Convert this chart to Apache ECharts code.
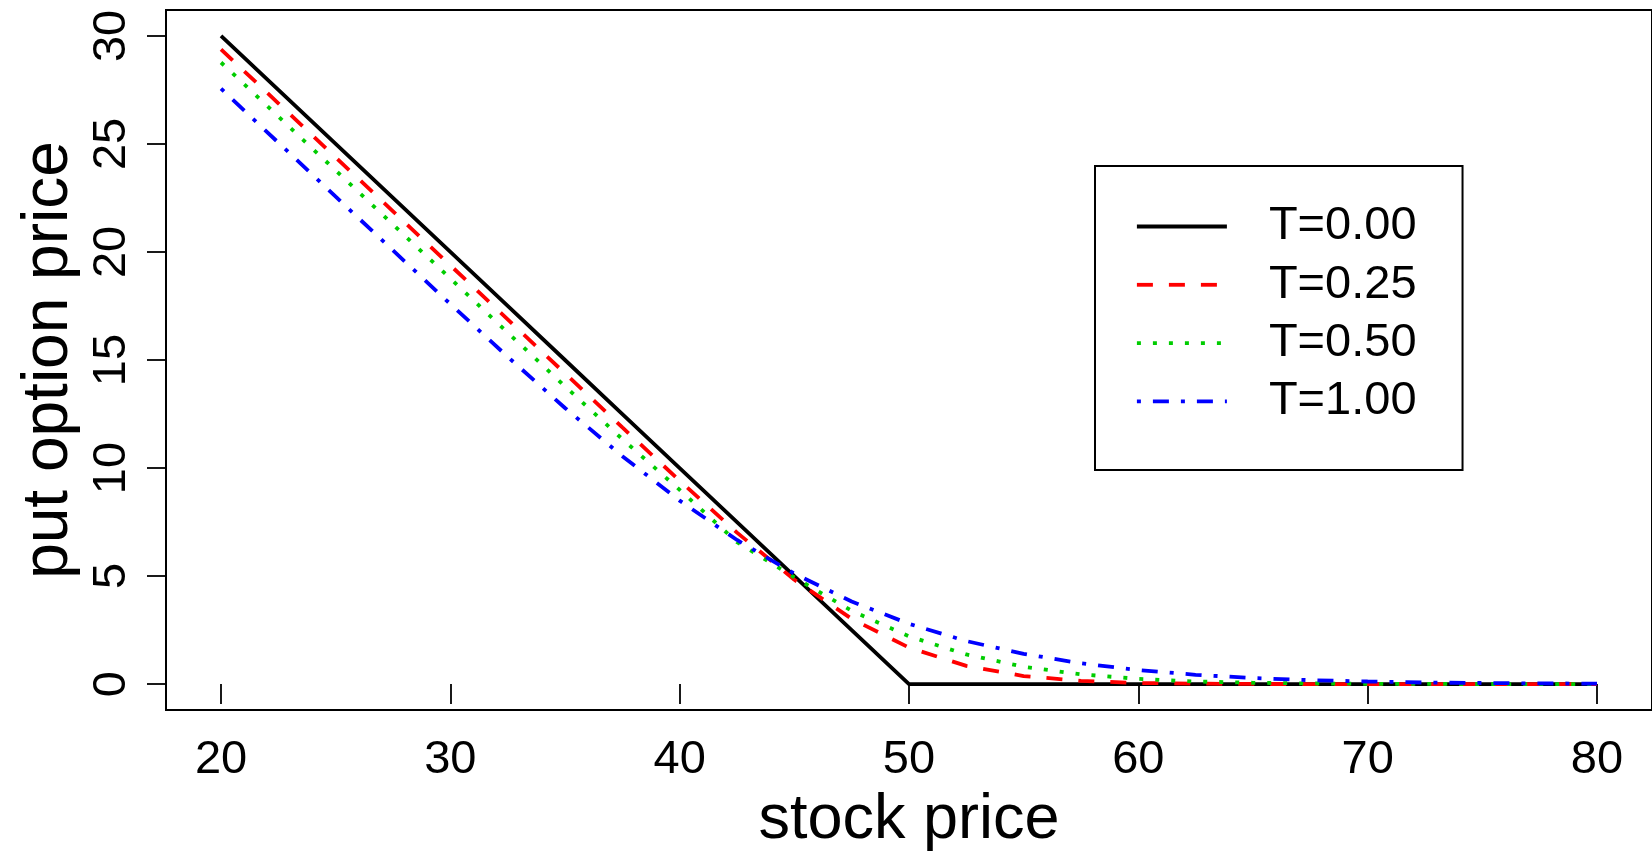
<!DOCTYPE html>
<html>
<head>
<meta charset="utf-8">
<script src="https://cdn.jsdelivr.net/npm/echarts@6/dist/echarts.min.js"></script>
<style>
html,body{margin:0;padding:0;background:#fff;}
#chart{width:1652px;height:857px;}
</style>
</head>
<body>
<div id="chart"></div>
<script>
// ---- data ----
const stockPrice = [20,22.5,25,27.5,30,32.5,35,37.5,40,42.5,45,47.5,50,52.5,55,57.5,60,62.5,65,67.5,70,72.5,75,77.5,80];
const putT000 = [30,27.5,25,22.5,20,17.5,15,12.5,10,7.5,5,2.5,0,0,0,0,0,0,0,0,0,0,0,0,0];
const putT025 = [29.38,26.88,24.38,21.88,19.38,16.88,14.38,11.88,9.41,7.01,4.83,3.02,1.69,0.84,0.37,0.15,0.05,0.02,0.005,0.001,0,0,0,0,0];
const putT050 = [28.77,26.27,23.77,21.27,18.77,16.27,13.78,11.34,8.99,6.57,4.94,3.39,2.21,1.37,0.80,0.45,0.24,0.12,0.06,0.03,0.014,0.006,0.003,0.001,0.0005];
const putT100 = [27.56,25.06,22.56,20.07,17.59,15.15,12.78,10.55,8.49,6.67,5.11,3.82,2.79,1.99,1.40,0.96,0.65,0.43,0.28,0.18,0.12,0.07,0.05,0.03,0.02];
const seriesNames = ['T=0.00','T=0.25','T=0.50','T=1.00'];
const xTicks = [20,30,40,50,60,70,80];
const yTicks = [0,5,10,15,20,25,30];
const xTitle = 'stock price';
const yTitle = 'put option price';

const FONT = 'Liberation Sans, Arial, Helvetica, sans-serif';
const pairs = ys => stockPrice.map((x, i) => [x, ys[i]]);

const styles = [
  {color:'#000000', dash:'solid'},
  {color:'#FF0000', dash:[16,16]},
  {color:'#00CD00', dash:[4,12]},
  {color:'#0000FF', dash:[4,12,16,12]}
];
const values = [putT000, putT025, putT050, putT100];

const chart = echarts.init(document.getElementById('chart'), null, {renderer:'canvas'});
chart.setOption({
  animation:false,
  backgroundColor:'#ffffff',
  textStyle:{fontFamily:FONT},
  grid:{left:166, right:-5, top:10, bottom:145, show:true, borderColor:'#000', borderWidth:2, backgroundColor:'transparent'},
  xAxis:{
    type:'value', min:17.6, max:82.4,
    name:xTitle, nameLocation:'middle', nameGap:79,
    nameTextStyle:{fontSize:63, color:'#000', fontFamily:FONT},
    axisLine:{show:false},
    axisTick:{show:true, inside:false, length:20, lineStyle:{color:'#000', width:1.8}, customValues:xTicks},
    axisLabel:{fontSize:47, color:'#000', margin:27, fontFamily:FONT, customValues:xTicks},
    splitLine:{show:false}
  },
  yAxis:{
    type:'value', min:-1.2, max:31.2,
    name:yTitle, nameLocation:'middle', nameGap:79, nameRotate:90,
    nameTextStyle:{fontSize:64, color:'#000', fontFamily:FONT},
    axisLine:{show:false},
    axisTick:{show:true, inside:false, length:19, lineStyle:{color:'#000', width:1.8}, customValues:yTicks},
    axisLabel:{fontSize:47, color:'#000', margin:30, rotate:90, fontFamily:FONT, customValues:yTicks},
    splitLine:{show:false}
  },
  legend:{
    orient:'vertical', left:1095, top:166,
    padding:[37,46,45,40],
    itemWidth:90, itemHeight:14, itemGap:11.3,
    borderColor:'#000', borderWidth:2, backgroundColor:'#fff',
    itemStyle:{opacity:0},
    lineStyle:{width:3.8},
    textStyle:{fontSize:47, color:'#000', lineHeight:46, fontFamily:FONT, padding:[0,0,0,37]},
    data:seriesNames
  },
  series:values.map((v, i) => ({
    name:seriesNames[i], type:'line', data:pairs(v),
    showSymbol:false, symbol:'none',
    smooth:false,
    lineStyle:{color:styles[i].color, width:3.8, type:styles[i].dash},
    itemStyle:{color:styles[i].color},
    z:2+i
  }))
});
</script>
</body>
</html>
